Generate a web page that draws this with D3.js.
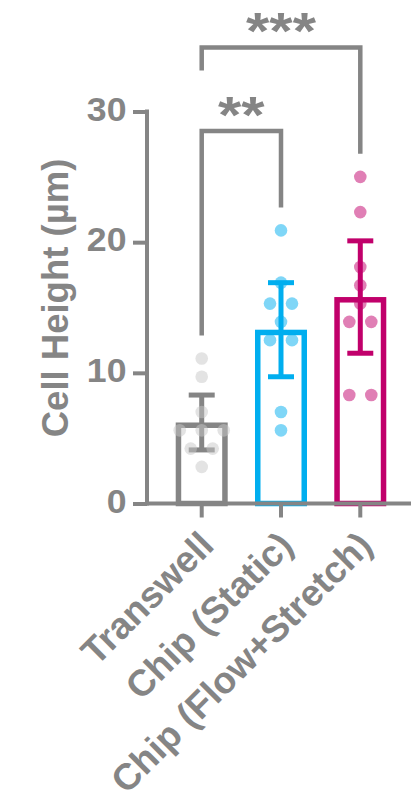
<!DOCTYPE html>
<html>
<head>
<meta charset="utf-8">
<script src="https://cdn.jsdelivr.net/npm/d3@7"></script>
<style>
  html, body { margin: 0; padding: 0; background: #ffffff; }
  svg { display: block; }
  text { font-family: "Liberation Sans", Arial, sans-serif; font-weight: bold; fill: #858585; }
</style>
</head>
<body>
<div id="chart"></div>
<script>
// Groups and individual measurements (cell height, µm)
const categories = ["Transwell", "Chip (Static)", "Chip (Flow+Stretch)"];
const transwellValues = [11.1, 9.7, 7.0, 5.6, 5.6, 5.6, 4.2, 4.2, 2.8];
const chipStaticValues = [20.9, 16.9, 15.3, 15.3, 13.9, 12.5, 12.5, 7.0, 5.6];
const chipFlowValues = [25.0, 22.3, 18.1, 16.7, 15.3, 13.9, 13.9, 8.3, 8.3];

// Group means and 95% CI limits
const means = [6.2, 13.3, 15.8];
const ciLow = [4.1, 9.7, 11.5];
const ciHigh = [8.3, 16.9, 20.1];

const yTicks = [0, 10, 20, 30];
const yLabel = "Cell Height (µm)";

// Significance comparisons (group indices, label, bracket level in µm)
const compFrom = [0, 0];
const compTo = [1, 2];
const compLabels = ["**", "***"];
const compLevels = [28.5, 34.9];

const groupValues = [transwellValues, chipStaticValues, chipFlowValues];
const barColors = ["#858585", "#00aeef", "#c1006b"];
const dotColors = ["#c8c8c8", "#00aeef", "#c1006b"];
const axisColor = "#858585";

const W = 411, H = 804;
const svg = d3.select("#chart").append("svg").attr("width", W).attr("height", H);

const y = d3.scaleLinear().domain([0, 30]).range([503.5, 111.5]);
const x = d3.scaleBand().domain(categories).range([147, 415])
  .paddingInner(0.42).paddingOuter(0.4);
const cx = c => x(c) + x.bandwidth() / 2;

// Bars (outline only; outer top edge sits at the mean)
const barSW = 5.5;
svg.append("g").selectAll("rect").data(categories).join("rect")
  .attr("x", c => x(c) + barSW / 2 - 3)
  .attr("width", x.bandwidth() - barSW + 6)
  .attr("y", (c, i) => y(means[i]) + barSW / 2)
  .attr("height", (c, i) => y(0) - y(means[i]) - barSW / 2)
  .attr("fill", "none")
  .attr("stroke", (c, i) => barColors[i])
  .attr("stroke-width", barSW);

// Error bars (95% CI)
const capW = 26;
const eb = svg.append("g").selectAll("g").data(categories).join("g")
  .attr("stroke", (c, i) => barColors[i])
  .attr("stroke-width", 5);
eb.append("line")
  .attr("x1", c => cx(c)).attr("x2", c => cx(c))
  .attr("y1", (c, i) => y(ciLow[i])).attr("y2", (c, i) => y(ciHigh[i]));
eb.append("line")
  .attr("x1", c => cx(c) - capW / 2).attr("x2", c => cx(c) + capW / 2)
  .attr("y1", (c, i) => y(ciHigh[i])).attr("y2", (c, i) => y(ciHigh[i]));
eb.append("line")
  .attr("x1", c => cx(c) - capW / 2).attr("x2", c => cx(c) + capW / 2)
  .attr("y1", (c, i) => y(ciLow[i])).attr("y2", (c, i) => y(ciLow[i]));

// Individual points, spread sideways when values coincide
const spread = 22;
const points = [];
groupValues.forEach((vals, gi) => {
  const groups = d3.group(vals, v => v);
  groups.forEach((arr, v) => {
    arr.forEach((_, k) => {
      points.push({ gi, v, dx: (k - (arr.length - 1) / 2) * spread });
    });
  });
});
svg.append("g").selectAll("circle").data(points).join("circle")
  .attr("cx", d => cx(categories[d.gi]) + d.dx)
  .attr("cy", d => y(d.v))
  .attr("r", 6.3)
  .attr("fill", d => dotColors[d.gi])
  .attr("fill-opacity", 0.5);

// Y axis
const yAxis = svg.append("g").attr("transform", "translate(147,0)")
  .call(d3.axisLeft(y).tickValues(yTicks).tickSize(14).tickSizeOuter(0).tickFormat(d3.format("d")));
yAxis.select(".domain").attr("stroke", axisColor).attr("stroke-width", 4)
  .attr("d", `M0,${y(30) - 2}V${y(0) + 2}`);
yAxis.selectAll(".tick line").attr("stroke", axisColor).attr("stroke-width", 4);
yAxis.selectAll(".tick text")
  .attr("x", null).attr("dy", null)
  .attr("transform", "translate(-20.5,8.5) scale(1.08,1)")
  .attr("text-anchor", "end")
  .style("font-size", "33px")
  .style("font-family", "'Liberation Sans', Arial, sans-serif")
  .style("font-weight", "bold")
  .attr("fill", axisColor);

// X axis
const xAxis = svg.append("g").attr("transform", `translate(0,${y(0)})`)
  .call(d3.axisBottom(x).tickSize(14).tickSizeOuter(0));
xAxis.select(".domain").attr("stroke", axisColor).attr("stroke-width", 4)
  .attr("d", `M145,0H${W}`);
xAxis.selectAll(".tick line").attr("stroke", axisColor).attr("stroke-width", 4);
xAxis.selectAll(".tick text")
  .attr("y", null).attr("dy", null)
  .attr("transform", "translate(14,44) rotate(-45)")
  .attr("text-anchor", "end")
  .style("font-size", "37px")
  .style("font-family", "'Liberation Sans', Arial, sans-serif")
  .style("font-weight", "bold")
  .attr("fill", axisColor);

// Y axis title
svg.append("text")
  .attr("transform", "translate(68,298) rotate(-90)")
  .attr("text-anchor", "middle")
  .style("font-size", "36.5px")
  .text(yLabel);

// Significance brackets
const legGap = 23;
const br = svg.append("g");
compLabels.forEach((lab, k) => {
  const a = compFrom[k], b = compTo[k];
  const ly = y(compLevels[k]);
  const legEnd = gi => {
    // a lower bracket already occupies this column: keep the leg short
    const blocked = compLevels.some((lv, j) => j !== k && lv < compLevels[k] &&
      (compFrom[j] === gi || compTo[j] === gi));
    return blocked ? ly + legGap : y(d3.max(groupValues[gi])) - legGap;
  };
  const xa = cx(categories[a]), xb = cx(categories[b]);
  br.append("path")
    .attr("d", `M${xa},${legEnd(a)}V${ly}H${xb}V${legEnd(b)}`)
    .attr("fill", "none").attr("stroke", axisColor).attr("stroke-width", 4.5);
  br.append("text")
    .attr("transform", `translate(${(xa + xb) / 2},${ly + 2}) scale(1.15,1)`)
    .attr("text-anchor", "middle")
    .style("font-size", "52px")
    .text(lab);
});
</script>
</body>
</html>
